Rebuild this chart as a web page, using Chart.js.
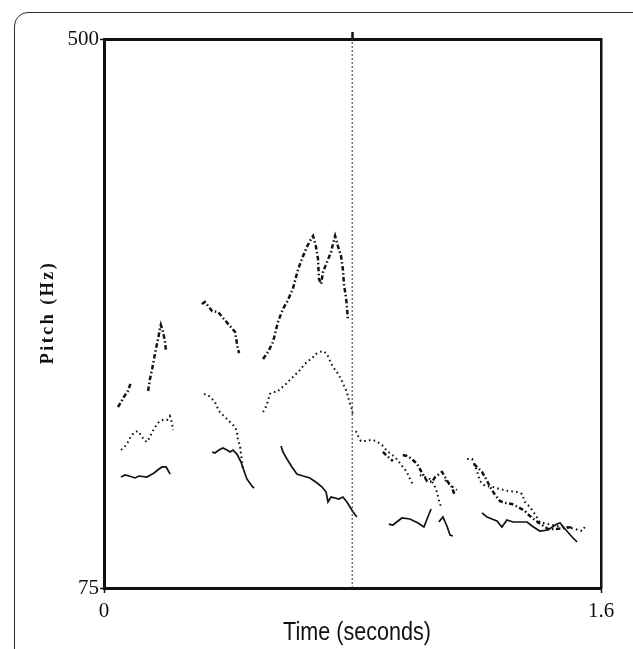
<!DOCTYPE html>
<html lang="en">
<head>
    <meta charset="UTF-8">
    <title>Pitch contour</title>
    <script src="https://cdn.jsdelivr.net/npm/chart.js"></script>
    <style>
        body {
            margin: 0;
            background-color: #ffffff;
            overflow: hidden;
        }
        #frame {
            position: absolute;
            left: 14px;
            top: 12px;
            width: 640px;
            height: 660px;
            border: 1.5px solid #2e2e2e;
            border-radius: 14px;
        }
        #pitchChart {
            position: absolute;
            left: 0;
            top: 0;
        }
    </style>
</head>
<body>
    <div id="frame"></div>
    <canvas id="pitchChart" width="633" height="649"></canvas>

    <script>
        // axis ticks
        const timeTicks = [0, 1.6];
        const pitchTicks = [75, 500];
        const markerTime = 0.799;

        // solid contour (null = gap between voiced stretches)
        const solidTime = [0.055, 0.068, 0.081, 0.100, 0.113, 0.138, 0.161, 0.177, 0.187, 0.200, 0.213, null,
            0.348, 0.357, 0.370, 0.383, 0.396, 0.406, 0.415, 0.428, 0.441, 0.451, 0.460, 0.476, 0.483, null,
            0.570, 0.576, 0.589, 0.605, 0.621, 0.641, 0.663, 0.686, 0.702, 0.715, 0.721, 0.731, 0.744, 0.756, 0.769, 0.782, 0.792, 0.802, 0.814, null,
            0.917, 0.930, 0.959, 0.985, 1.011, 1.030, 1.040, 1.053, null,
            1.078, 1.091, 1.104, 1.114, 1.123, null,
            1.217, 1.233, 1.249, 1.265, 1.281, 1.297, 1.317, 1.362, 1.378, 1.403, 1.429, 1.458, 1.468, 1.490, 1.507, 1.523];
        const solidPitch = [161, 162.5, 161.7, 160.2, 161.7, 160.9, 164, 167.1, 168.7, 168.7, 163.2, null,
            180.3, 179.5, 181.8, 183.4, 181.8, 180.3, 181.8, 178.7, 172.5, 165.6, 159.4, 154, 152.4, null,
            184.9, 180.3, 174.9, 168.7, 163.2, 161.7, 160.2, 156.3, 153.2, 149.3, 141.6, 145.4, 144.7, 143.9, 145.4, 141.6, 137.7, 133.8, 130, null,
            124.5, 123.8, 129.2, 128.4, 125.3, 122.2, 128.4, 136.2, null,
            126.1, 130, 123, 116, 115.3, null,
            133.1, 130, 128.4, 126.9, 122.2, 127.6, 126.1, 126.1, 123, 119.1, 119.9, 124.5, 125.3, 119.1, 114.5, 110.6];

        // dotted contour
        const dottedTime = [0.055, 0.068, 0.077, 0.087, 0.100, 0.109, 0.119, 0.129, 0.138, 0.148, 0.155, 0.167, 0.177, 0.190, 0.203, 0.212, 0.219, 0.222, null,
            0.322, 0.335, 0.348, 0.357, 0.364, 0.373, 0.386, 0.399, 0.409, 0.422, 0.428, 0.431, 0.438, 0.441, 0.444, 0.447, null,
            0.512, 0.521, 0.528, 0.534, 0.544, 0.557, 0.570, 0.583, 0.592, 0.605, 0.615, 0.628, 0.641, 0.653, 0.670, 0.682, 0.695, 0.705, 0.718, 0.728, 0.737, 0.750, 0.763, 0.773, 0.782, 0.789, 0.798, 0.802, null,
            0.811, 0.818, 0.827, 0.843, 0.859, 0.876, 0.885, 0.898, 0.911, 0.924, 0.937, 0.950, 0.962, 0.975, 0.985, 0.995, null,
            1.017, 1.033, 1.049, 1.062, 1.072, 1.078, 1.085, null,
            1.098, 1.114, 1.136, null,
            1.169, 1.185, 1.201, 1.210, 1.227, 1.252, 1.275, 1.301, 1.329, 1.346, 1.355, 1.371, 1.387, 1.403, 1.429, 1.458, 1.490, 1.516, 1.539, 1.548];
        const dottedPitch = [181.8, 184.9, 188, 192.7, 195.8, 196.5, 193.4, 189.6, 188, 191.9, 195.8, 200.4, 203.5, 205.1, 205.1, 208.1, 202.7, 197.3, null,
            225.2, 224.4, 221.3, 219, 215.1, 211.2, 208.1, 205.1, 202.7, 199.6, 195.8, 190.3, 184.9, 178.7, 173.3, 167.1, null,
            211.2, 215.1, 219.8, 225.2, 226.7, 226.7, 229.8, 232.1, 234.5, 237.6, 239.9, 243, 246.9, 250, 253, 256.1, 257.7, 258.5, 256.1, 250.7, 246.1, 242.2, 236.8, 231.4, 226.7, 219.8, 213.6, 208.1, null,
            196.5, 192.7, 188.8, 188.8, 189.6, 188.8, 187.2, 184.9, 181.1, 178.7, 176.4, 172.5, 168.7, 164.8, 159.4, 154.7, null,
            162.5, 160.9, 159.4, 155.5, 149.3, 143.1, 137.7, null,
            158.6, 154.7, 150.9, null,
            174.9, 174.9, 165.6, 157.8, 154, 153.2, 151.6, 150.1, 149.3, 147.8, 141.6, 137.7, 132.3, 126.1, 124.5, 123, 122.2, 120.7, 119.1, 122.2];

        // dash-dot contour
        const dashTime = [0.045, 0.055, 0.064, 0.077, 0.087, null,
            0.142, 0.148, 0.155, 0.161, 0.167, 0.174, 0.180, 0.183, 0.190, 0.196, 0.200, null,
            0.315, 0.325, 0.348, 0.367, 0.386, 0.406, 0.422, 0.431, 0.435, null,
            0.512, 0.528, 0.544, 0.560, 0.576, 0.589, 0.608, 0.625, 0.641, 0.653, 0.663, 0.673, 0.682, 0.689, 0.692, 0.699, 0.705, 0.718, 0.731, 0.737, 0.744, 0.753, 0.763, 0.769, 0.773, 0.779, 0.782, 0.785, null,
            0.898, 0.911, 0.930, null,
            0.962, 0.975, 0.991, 1.008, 1.017, 1.030, 1.040, 1.056, 1.066, 1.088, 1.098, 1.107, 1.120, 1.130, null,
            1.191, 1.217, 1.230, 1.243, 1.259, 1.275, 1.294, 1.313, 1.333, 1.355, 1.371, 1.391, 1.410, 1.429, 1.455, 1.481, 1.507];
        const dashPitch = [215.1, 219, 222.9, 227.5, 234.5, null,
            227.5, 236.8, 244.5, 252.3, 260, 267.8, 275.5, 278.6, 273.2, 266.2, 257.7, null,
            294.8, 296.4, 289.4, 288.7, 283.2, 277.8, 273.2, 260, 256.9, null,
            252.3, 257.7, 265.4, 280.9, 291, 296.4, 306.5, 321.9, 332, 339, 343.6, 347.5, 339.7, 329.7, 314.2, 310.3, 319.6, 327.4, 335.1, 341.3, 347.5, 339.7, 332, 321.9, 308.8, 300.3, 292.5, 283.2, null,
            180.3, 177.2, 173.3, null,
            178, 177.2, 174.9, 171, 167.1, 161.7, 157.8, 157.1, 160.9, 164.8, 160.9, 157.1, 153.2, 146.2, null,
            171, 164.8, 159.4, 153.2, 147, 142.3, 140.8, 140, 137.7, 134.6, 130.7, 126.9, 123.8, 120.7, 120.7, 121.4, 122.2];

        const yTitle = 'Pitch (Hz)';
        const xTitle = 'Time (seconds)';

        function toPoints(times, pitches) {
            return times.map((t, i) => pitches[i] === null ? { x: times[i - 1], y: null } : { x: t, y: pitches[i] });
        }

        function fixedTicks(values) {
            return function (scale) {
                scale.ticks = values.map(v => ({ value: v }));
            };
        }

        const axisTitles = {
            id: 'axisTitles',
            afterDraw(chart) {
                const ctx = chart.ctx;
                const area = chart.chartArea;
                ctx.save();
                ctx.fillStyle = '#111';
                ctx.font = 'bold 18px "Liberation Serif"';
                ctx.letterSpacing = '2.5px';
                ctx.translate(48, (area.top + area.bottom) / 2);
                ctx.rotate(-Math.PI / 2);
                ctx.textAlign = 'center';
                ctx.textBaseline = 'middle';
                ctx.fillText(yTitle, 1, 0);
                ctx.restore();

                ctx.save();
                ctx.fillStyle = '#111';
                ctx.font = '26px "Liberation Sans"';
                ctx.translate(357, 633);
                ctx.scale(0.83, 1);
                ctx.textAlign = 'center';
                ctx.textBaseline = 'middle';
                ctx.fillText(xTitle, 0, 0);
                ctx.restore();
            }
        };

        const ctx = document.getElementById('pitchChart').getContext('2d');
        new Chart(ctx, {
            type: 'line',
            data: {
                datasets: [
                    {
                        label: 'marker',
                        data: [{ x: markerTime, y: pitchTicks[0] }, { x: markerTime, y: pitchTicks[1] }],
                        borderColor: '#333',
                        borderWidth: 1,
                        borderDash: [2, 2]
                    },
                    {
                        label: 'solid',
                        data: toPoints(solidTime, solidPitch),
                        borderColor: '#111',
                        borderWidth: 1.7
                    },
                    {
                        label: 'dotted',
                        data: toPoints(dottedTime, dottedPitch),
                        borderColor: '#111',
                        borderWidth: 2,
                        borderDash: [1.6, 3.2]
                    },
                    {
                        label: 'dashdot',
                        data: toPoints(dashTime, dashPitch),
                        borderColor: '#111',
                        borderWidth: 2.5,
                        borderDash: [4.5, 2.5, 1.5, 2.5]
                    }
                ]
            },
            options: {
                responsive: false,
                animation: false,
                events: [],
                spanGaps: false,
                elements: {
                    point: { radius: 0 },
                    line: { tension: 0, borderCapStyle: 'butt' }
                },
                layout: { padding: { left: 0, top: 39, right: 32, bottom: 0 } },
                plugins: {
                    legend: { display: false },
                    tooltip: { enabled: false }
                },
                scales: {
                    x: {
                        type: 'linear',
                        min: 0,
                        max: 1.6,
                        afterBuildTicks: fixedTicks(timeTicks),
                        afterFit: s => { s.height = 61; },
                        grid: { display: true, drawOnChartArea: false, tickLength: 5, tickWidth: 1.5, color: '#111' },
                        border: { display: true, width: 3, color: '#111' },
                        ticks: {
                            padding: 6,
                            maxRotation: 0,
                            color: '#111',
                            font: { family: '"Liberation Serif"', size: 21 },
                            callback: v => String(v)
                        }
                    },
                    x2: {
                        type: 'linear',
                        position: 'top',
                        min: 0,
                        max: 1.6,
                        afterBuildTicks: fixedTicks([markerTime]),
                        afterFit: s => { s.height = 0; },
                        grid: { display: true, drawOnChartArea: false, tickLength: 7, tickWidth: 2.5, color: '#111' },
                        border: { display: true, width: 3, color: '#111' },
                        ticks: { display: false }
                    },
                    y: {
                        type: 'linear',
                        min: 75,
                        max: 500,
                        afterBuildTicks: fixedTicks(pitchTicks),
                        afterFit: s => { s.width = 104; },
                        grid: { display: true, drawOnChartArea: false, tickLength: 4, tickWidth: 1.5, color: '#111' },
                        border: { display: true, width: 3, color: '#111' },
                        ticks: {
                            padding: 1,
                            color: '#111',
                            font: { family: '"Liberation Serif"', size: 21 }
                        }
                    },
                    y2: {
                        type: 'linear',
                        position: 'right',
                        min: 75,
                        max: 500,
                        afterFit: s => { s.width = 0; },
                        grid: { display: false },
                        border: { display: true, width: 2.5, color: '#111' },
                        ticks: { display: false }
                    }
                }
            },
            plugins: [axisTitles]
        });
    </script>
</body>
</html>
